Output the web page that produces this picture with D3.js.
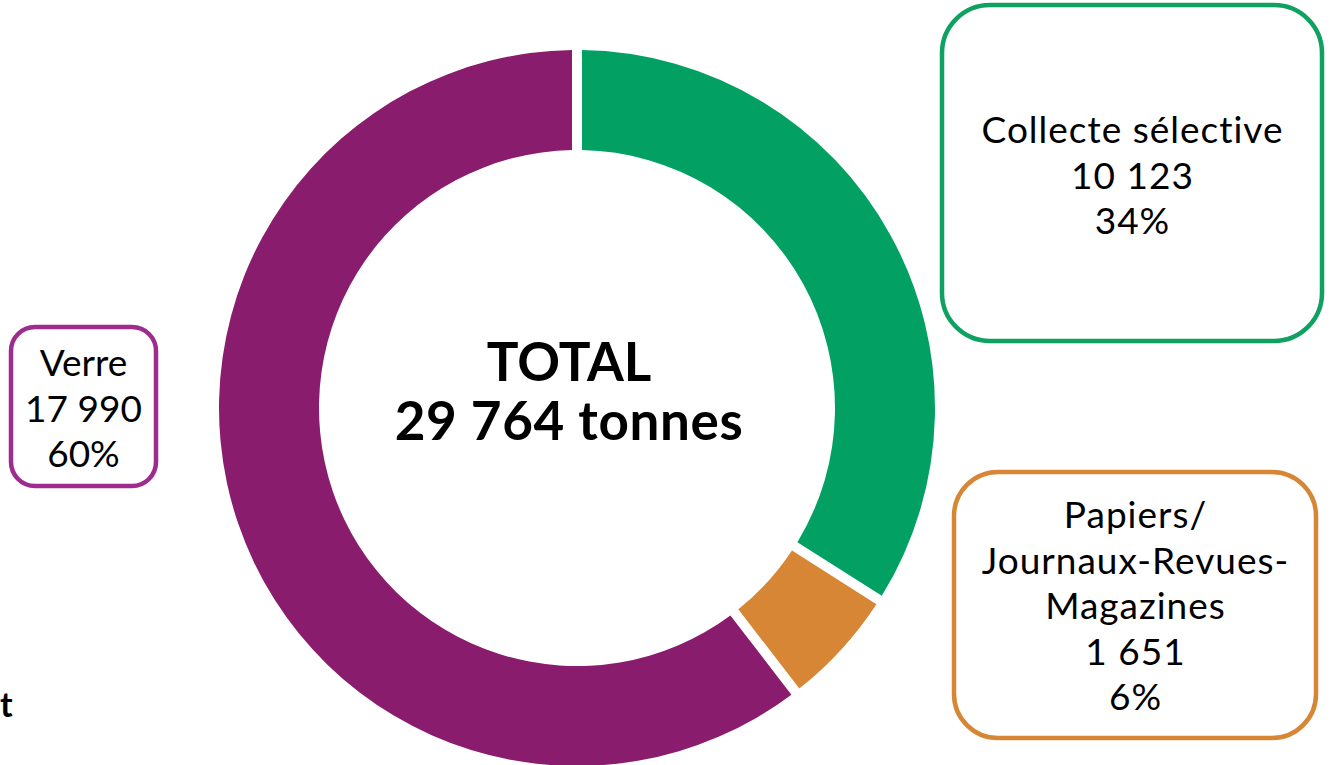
<!DOCTYPE html>
<html><head><meta charset="utf-8">
<script src="https://cdn.jsdelivr.net/npm/d3@7"></script>
<style>html,body{margin:0;padding:0;background:#fff;}svg{display:block;}</style>
</head><body>
<svg id="chart" width="1332" height="765"></svg>
<script>
const categories = ["Collecte sélective", "Papiers/Journaux-Revues-Magazines", "Verre"];
const values = [10123, 1651, 17990];
const percents = ["34%", "6%", "60%"];
const valueLabels = ["10 123", "1 651", "17 990"];
const labelLines = [["Collecte sélective"], ["Papiers/", "Journaux-Revues-", "Magazines"], ["Verre"]];
const sliceColors = ["#02A163", "#D68634", "#8A1C6E"];
const boxColors = ["#0FA162", "#D68634", "#9E2B8E"];
const totalLines = ["TOTAL", "29 764 tonnes"];

const svg = d3.select("#chart");
const cx = 577, cy = 408, outerR = 358, innerR = 258;
const font = "Lato, 'Open Sans', sans-serif";

const pie = d3.pie().sort(null).value(d => d)(values);
const padR = Math.sqrt(innerR*innerR + outerR*outerR);
const arc = d3.arc().innerRadius(innerR).outerRadius(outerR).padAngle(10/padR).padRadius(padR);
const g = svg.append("g").attr("transform", `translate(${cx},${cy})`);
g.selectAll("path").data(pie).join("path")
  .attr("d", arc).attr("fill", (d,i) => sliceColors[i]);

// center title
svg.append("text").attr("x", cx-8).attr("y", 381).attr("text-anchor","middle")
  .attr("font-family", font).attr("font-weight", 700).attr("font-size", 53).attr("fill","#000").text(totalLines[0]);
svg.append("text").attr("x", cx-8).attr("y", 440).attr("text-anchor","middle")
  .attr("font-family", font).attr("font-weight", 700).attr("font-size", 53)
  .attr("letter-spacing", 0.6).attr("fill","#000").text(totalLines[1]);

// label boxes
const boxes = [
  {x: 942, y: 5, w: 380, h: 336, r: 48, firstBase: 143, ls: 1},
  {x: 954, y: 472, w: 362, h: 266, r: 44, firstBase: 528, ls: 1},
  {x: 11, y: 327, w: 145, h: 159, r: 24, firstBase: 376, ls: 0}
];
boxes.forEach((b, i) => {
  svg.append("rect").attr("x", b.x).attr("y", b.y).attr("width", b.w).attr("height", b.h)
    .attr("rx", b.r).attr("ry", b.r).attr("fill", "#fff")
    .attr("stroke", boxColors[i]).attr("stroke-width", 4.5);
  const lines = labelLines[i].concat([valueLabels[i], percents[i]]);
  const t = svg.append("text").attr("text-anchor", "middle")
    .attr("font-family", font).attr("font-size", 37).attr("letter-spacing", b.ls).attr("fill", "#000");
  lines.forEach((ln, k) => {
    t.append("tspan").attr("x", b.x + b.w/2 + b.ls/2).attr("y", b.firstBase + k*45.5).text(ln);
  });
});

// fragment at left edge
svg.append("text").attr("x", 0).attr("y", 717).attr("text-anchor","start")
  .attr("font-family", font).attr("font-weight", 700).attr("font-size", 34).attr("fill","#000").text("t");
</script>
</body></html>
